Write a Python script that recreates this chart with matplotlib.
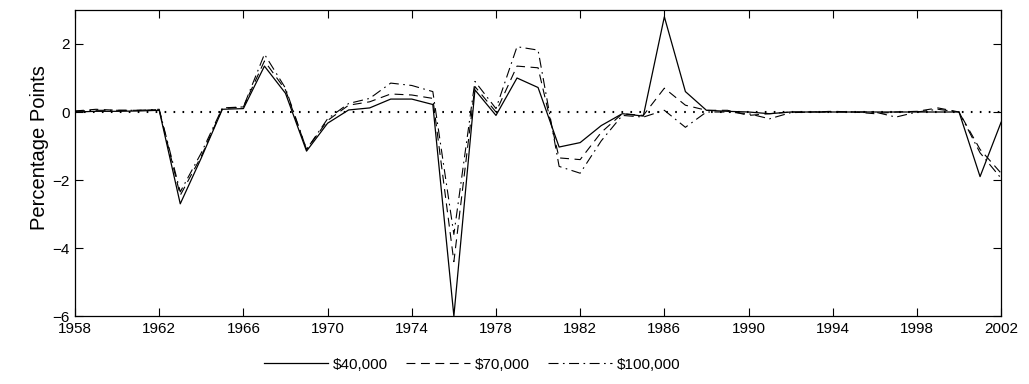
import matplotlib
matplotlib.use("Agg")
import matplotlib.pyplot as plt

plt.rcParams["font.family"] = ["Liberation Sans", "DejaVu Sans"]

years = list(range(1958, 2003))

inc_40k = [0.0, 0.02, 0.02, 0.03, 0.05, -2.7, -1.35, 0.08, 0.1, 1.35,
           0.55, -1.15, -0.33, 0.06, 0.12, 0.38, 0.38, 0.22, -6.0, 0.65,
           -0.1, 1.0, 0.72, -1.03, -0.9, -0.4, -0.05, -0.12, 2.8, 0.6,
           0.05, 0.02, 0.0, -0.05, 0.0, 0.0, 0.0, 0.0, 0.0, 0.0,
           0.0, 0.0, 0.0, -1.9, -0.3]

inc_70k = [0.03, 0.08, 0.05, 0.05, 0.07, -2.45, -1.3, 0.1, 0.15, 1.5,
           0.65, -1.1, -0.25, 0.2, 0.3, 0.53, 0.5, 0.4, -4.4, 0.75,
           0.0, 1.35, 1.3, -1.35, -1.4, -0.6, -0.05, -0.1, 0.7, 0.2,
           0.05, 0.05, -0.1, -0.05, 0.0, 0.0, 0.02, 0.0, -0.05, 0.0,
           0.02, 0.12, 0.0, -1.1, -1.8]

inc_100k = [0.02, 0.05, 0.05, 0.05, 0.08, -2.35, -1.2, 0.12, 0.15, 1.7,
            0.7, -1.1, -0.2, 0.25, 0.4, 0.85, 0.78, 0.6, -3.6, 0.9,
            0.1, 1.92, 1.82, -1.6, -1.8, -0.85, -0.1, -0.15, 0.05, -0.45,
            0.0, 0.0, -0.05, -0.2, -0.02, 0.0, 0.0, 0.0, 0.0, -0.15,
            0.0, 0.08, 0.0, -1.2, -1.95]

labels = ["$40,000", "$70,000", "$100,000"]
xticks = list(range(1958, 2003, 4))
yticks = [-6, -4, -2, 0, 2]

fig = plt.figure(figsize=(10.29, 3.84), dpi=100)
ax = fig.add_axes([0.0729, 0.177, 0.9, 0.797])

# zero reference line
ax.plot(years, [0] * len(years), color="black", lw=1.5, dashes=(0.8, 3.5))
ax.plot(years, inc_40k, color="black", lw=0.9, label=labels[0])
ax.plot(years, inc_70k, color="black", lw=0.8, dashes=(8, 5), label=labels[1])
ax.plot(years, inc_100k, color="black", lw=0.8, dashes=(9, 4, 1.5, 4),
        label=labels[2])

ax.set_xlim(1958, 2002)
ax.set_ylim(-6, 3)
ax.set_xticks(xticks)
ax.set_yticks(yticks)
ax.tick_params(direction="in", length=6, width=0.8, labelsize=11,
               top=True, right=True, pad=4)
for s in ax.spines.values():
    s.set_linewidth(0.9)
ax.set_ylabel("Percentage Points", fontsize=14.5)
ax.yaxis.set_label_coords(-0.028, 0.552)

fig.legend(loc="center", bbox_to_anchor=(0.459, 0.05), ncol=3,
           frameon=False, fontsize=11, handlelength=4.2, columnspacing=1.2,
           handletextpad=0.3)

fig.savefig("out.png", dpi=100)
